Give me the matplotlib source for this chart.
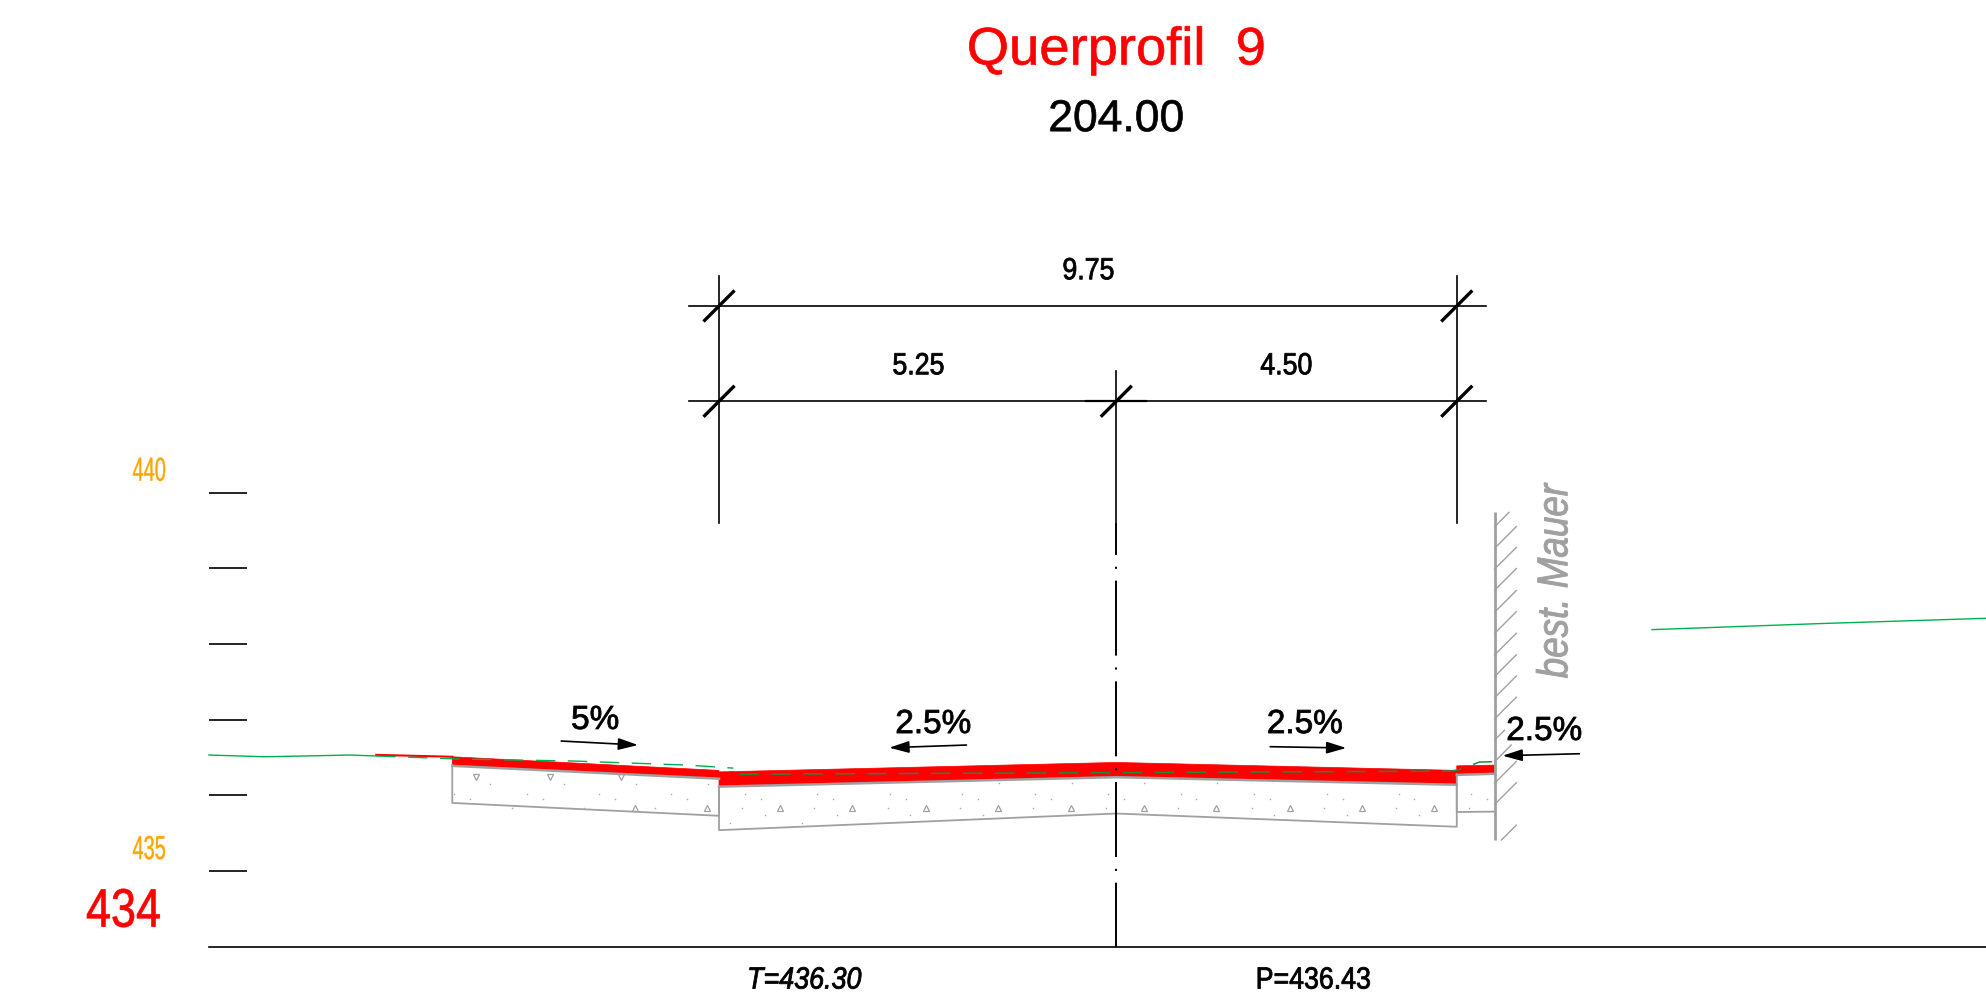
import numpy as np
import matplotlib
matplotlib.use('Agg')
import matplotlib.pyplot as plt
from matplotlib.patches import FancyArrowPatch
from matplotlib.patheffects import AbstractPathEffect
from matplotlib.transforms import Affine2D

plt.rcParams['lines.scale_dashes'] = False
plt.rcParams['font.family'] = ['Liberation Sans']

GRAY = '#a0a0a0'
RED = '#ff0000'
ORANGE = '#ffa500'
GREEN = '#00b050'

# section geometry: offset from centre line (m), elevation (m)
elev_ticks = [440, 439, 438, 437, 436, 435]
base_elev = 434
x_left_edge = -5.25
x_right_edge = 4.5
x_wall = 5.0

red_x = [-8.775, -5.25, -5.25, 0, 4.5, 4.5, 5.0, 5.0, 4.5, 4.5, 0, -5.25, -5.25, -8.775]
red_e = [436.51, 436.33, 436.31, 436.435, 436.33, 436.39, 436.40, 436.285, 436.27, 436.14, 436.24, 436.115, 436.22, 436.39]
red_thin_x = [-9.78, -8.775]
red_thin_e = [436.535, 436.51]

sec1_x = [-8.775, -8.775, -5.25, -5.25]
sec1_e = [436.40, 435.90, 435.73, 436.125]
sec1_top_e = [436.39, 436.22]
sec2_x = [-5.25, -5.25, 0, 4.5, 4.5]
sec2_e = [436.125, 435.54, 435.76, 435.585, 436.15]
sec2_top_x = [-5.25, 0, 4.5]
sec2_top_e = [436.115, 436.24, 436.14]
sec3_x = [4.5, 4.5, 5.0]
sec3_e = [436.28, 435.78, 435.785]

tri1_x = [-8.46, -7.49, -6.54]
tri1_e = [436.247, 436.247, 436.247]
tri2_x = [-6.36, -5.405, -4.44, -3.49, -2.52, -1.566, -0.60, 0.36, 1.32, 2.29, 3.25, 4.20]
tri2_e = [435.83] * 12

# speckle pattern repeated around each triangle
dot_tiles = [-4.44, -3.49, -2.52, -1.566, -0.60, 0.36, 1.32, 2.29, 3.25, 4.20, 5.16]
dot_dx = [-0.47, -0.26, -0.50, -0.20, -0.66, 0.01]
dot_e = [436.02, 435.95, 435.83, 435.74, 435.64, 436.16]
dot1_tiles = [-8.46, -7.49, -6.54, -5.59]
dot1_dx = [0.19, -0.295, -0.084, -0.50]
dot1_e = [436.15, 436.02, 435.95, 435.83]

ground_l_x = [-11.99, -11.25, -10.12, -9.78]
ground_l_e = [436.533, 436.51, 436.533, 436.52]
ground_d1_x = [-9.78, -8.67, -7.18, -5.67, -5.06]
ground_d1_e = [436.52, 436.48, 436.454, 436.40, 436.36]
ground_d2_x = [-4.98, 0, 4.41, 4.51, 4.64, 4.80, 5.0]
ground_d2_e = [436.28, 436.30, 436.32, 436.335, 436.38, 436.44, 436.445]
ground_r_x = [7.08, 9.3, 11.5]
ground_r_e = [438.19, 438.27, 438.34]

wall_e = [439.745, 435.41]
hatch_e = [439.55, 439.265, 438.99, 438.71, 438.42, 438.14, 437.855, 437.57, 437.29, 437.01, 436.73, 436.445, 436.16, 435.88, 435.41]
hatch_x0 = [0.0] * 14 + [0.09]
hatch_x1 = [0.19, 0.287, 0.287, 0.287, 0.287, 0.287, 0.287, 0.287, 0.287, 0.287, 0.13, 0.22, 0.287, 0.287, 0.287]

dim_e1 = 442.467
dim_e2 = 441.208
dim_x = [-5.64, 4.89]
ext_e = [442.863, 439.60]
cl_top = 441.61
slash = 0.205
slashes = [(-5.25, dim_e1), (4.5, dim_e1), (-5.25, dim_e2), (0, dim_e2), (4.5, dim_e2)]

arrows = [((-7.335, 436.718), (-6.32, 436.665)),
          ((-1.98, 436.665), (-3.0, 436.63)),
          ((2.035, 436.643), (3.04, 436.626)),
          ((6.12, 436.55), (5.105, 436.524))]

slope_labels = ['5%', '2.5%', '2.5%', '2.5%']
slope_x = [-6.885, -2.418, 2.492, 5.656]
slope_y = [436.99, 436.936, 436.936, 436.844]

fig = plt.figure(figsize=(19.86, 10.04), dpi=100)
ax = fig.add_axes([0, 0, 1, 1])
ax.set_xlim(-14.752, 11.494)
ax.set_ylim(433.256, 446.524)
ax.axis('off')


class Squeeze(AbstractPathEffect):
    # no condensed font is installed, so narrow the glyphs about the anchor
    def __init__(self, x, y, sx=1.0, sy=1.0, bold=0.0):
        super().__init__()
        self.x, self.y, self.sx, self.sy, self.bold = x, y, sx, sy, bold

    def draw_path(self, renderer, gc, tpath, affine, rgbFace=None):
        cx, cy = ax.transData.transform((self.x, self.y))
        t = affine + Affine2D().translate(-cx, -cy).scale(self.sx, self.sy).translate(cx, cy)
        gc0 = renderer.new_gc()
        gc0.copy_properties(gc)
        gc0.set_linewidth(self.bold)
        gc0.set_foreground(rgbFace)
        renderer.draw_path(gc0, tpath, t, rgbFace)
        gc0.restore()


def label(x, y, s, sx=1.0, sy=1.0, bold=0.0, **kw):
    t = ax.text(x, y, s, ha='center', va='center', **kw)
    t.set_path_effects([Squeeze(x, y, sx, sy, bold)])


# scale ticks and base line
for e in elev_ticks:
    ax.plot([-11.99, -11.49], [e, e], color='black', lw=1.2, solid_capstyle='butt')
ax.plot([-11.99, 11.5], [base_elev, base_elev], color='black', lw=1.2)

# concrete
ax.plot(sec1_x, sec1_e, color=GRAY, lw=1.3)
ax.plot(sec2_x, sec2_e, color=GRAY, lw=1.3)
ax.plot(sec3_x, sec3_e, color=GRAY, lw=1.3)
ax.plot([-8.775, -5.25], sec1_top_e, color=GRAY, lw=1.8)
ax.plot(sec2_top_x, sec2_top_e, color=GRAY, lw=1.8)
ax.plot([4.5, 5.0], [436.27, 436.285], color=GRAY, lw=1.8)

ax.plot(tri1_x, tri1_e, 'v', ms=5, mfc='none', mec=GRAY, mew=0.9)
ax.plot(tri2_x, tri2_e, '^', ms=5, mfc='none', mec=GRAY, mew=0.9)

dx, dy = [], []
for t in dot_tiles:
    for a, b in zip(dot_dx, dot_e):
        px = t + a
        if x_left_edge < px < x_right_edge:
            low = np.interp(px, [-5.25, 0, 4.5], [435.54, 435.76, 435.585])
            up = np.interp(px, sec2_top_x, sec2_top_e)
            if low + 0.03 < b < up - 0.03:
                dx.append(px)
                dy.append(b)
        elif x_right_edge < px < x_wall and 435.80 < b < 436.25:
            dx.append(px)
            dy.append(b)
for t in dot1_tiles:
    for a, b in zip(dot1_dx, dot1_e):
        if -8.775 < t + a < x_left_edge:
            dx.append(t + a)
            dy.append(b)
ax.plot(dx, dy, 's', ms=1.0, color='#a8a8a8', mew=0)

# wall
ax.plot([x_wall, x_wall], wall_e, color=GRAY, lw=2, solid_capstyle='butt')
for e, a, b in zip(hatch_e, hatch_x0, hatch_x1):
    ax.plot([x_wall + a, x_wall + b], [e, e + b - a], color=GRAY, lw=1)

# finish layer
ax.fill(red_x, red_e, color=RED, lw=0.5)
ax.plot(red_thin_x, red_thin_e, color=RED, lw=1.5)

# existing ground
ax.plot(ground_l_x, ground_l_e, color=GREEN, lw=1)
ax.plot(ground_d1_x, ground_d1_e, color=GREEN, lw=1, linestyle=(0, (14, 9)))
ax.plot(ground_d2_x, ground_d2_e, color='#1f8a3c', lw=1.1, linestyle=(0, (14, 9)))
ax.plot(ground_r_x, ground_r_e, color=GREEN, lw=1)

# centre line
ax.plot([0, 0], [439.6, base_elev], color='black', lw=1.4, linestyle=(31, (54, 8.5, 1.5, 8.5)), dash_capstyle='butt')

# dimensions
for e in [dim_e1, dim_e2]:
    ax.plot(dim_x, [e, e], color='black', lw=1.2)
ax.plot([-5.25, -5.25], ext_e, color='black', lw=1.2)
ax.plot([4.5, 4.5], ext_e, color='black', lw=1.2)
ax.plot([0, 0], [cl_top, ext_e[1]], color='black', lw=1.2)
ax.plot([-0.396, 0.396], [dim_e2, dim_e2], color='black', lw=1.6)
for sx, sy in slashes:
    ax.plot([sx - slash, sx + slash], [sy - slash, sy + slash], color='black', lw=2.4, solid_capstyle='butt')

for start, end in arrows:
    ax.add_patch(FancyArrowPatch(start, end, arrowstyle='-|>,head_length=1.2,head_width=0.36',
                                 mutation_scale=10, shrinkA=0, shrinkB=0, color='black', lw=1.2))

# texts
label(0, 445.844, 'Querprofil  9', sx=1.03, bold=0.5, color=RED, fontsize=38)
label(0, 444.93, '204.00', bold=0.5, color='black', fontsize=32)
label(-0.37, 442.926, '9.75', sx=0.875, bold=0.6, fontsize=22)
label(-2.617, 441.67, '5.25', sx=0.875, bold=0.6, fontsize=22)
label(2.247, 441.67, '4.50', sx=0.875, bold=0.6, fontsize=22)
for name, x, y in zip(slope_labels, slope_x, slope_y):
    label(x, y, name, bold=0.6, fontsize=24)
label(-4.123, 433.553, 'T=436.30', sx=0.88, bold=0.6, style='italic', fontsize=22)
label(2.603, 433.553, 'P=436.43', sx=0.875, bold=0.6, fontsize=22)
label(-12.78, 440.27, '440', sx=0.6, bold=0.3, color=ORANGE, fontsize=24)
label(-12.78, 435.27, '435', sx=0.6, bold=0.3, color=ORANGE, fontsize=24)
label(-13.12, 434.45, '434', sx=0.83, bold=0.5, color=RED, fontsize=39)
label(5.815, 438.83, 'best. Mauer', sy=0.855, bold=0.7, style='italic', color=GRAY, fontsize=31, rotation=90)

fig.savefig('out.png', dpi=100)
